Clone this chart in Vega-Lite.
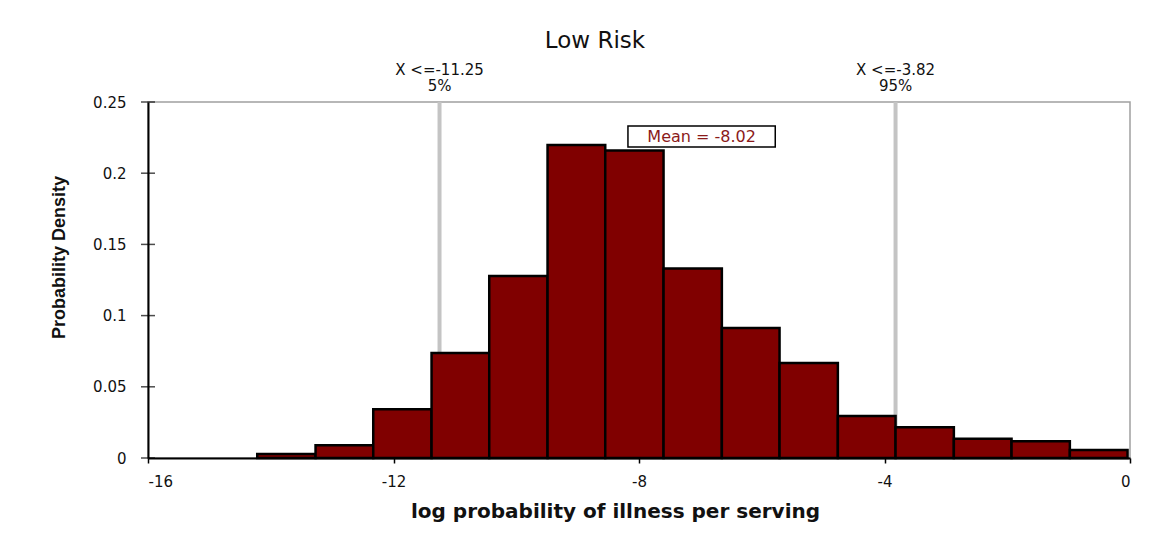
{
  "$schema": "https://vega.github.io/schema/vega-lite/v6.json",
  "width": 982,
  "height": 356,
  "autosize": {"type": "none"},
  "padding": {"left": 148, "top": 102, "right": 46, "bottom": 89},
  "background": "white",
  "config": {
    "font": "DejaVu Sans",
    "view": {"stroke": "#a0a0a0", "strokeWidth": 1.5},
    "axis": {"labelFont": "DejaVu Sans", "titleFont": "DejaVu Sans", "labelColor": "#111", "titleColor": "#111", "grid": false}
  },
  "title": {"text": "Low Risk", "fontSize": 23, "fontWeight": "normal", "color": "#111", "anchor": "middle", "dx": -44, "offset": 10, "font": "DejaVu Sans"},
  "datasets": {
    "bins": [
      {"start": -14.22, "end": -13.27, "density": 0.0028},
      {"start": -13.27, "end": -12.33, "density": 0.0089},
      {"start": -12.33, "end": -11.38, "density": 0.0342},
      {"start": -11.38, "end": -10.44, "density": 0.0737},
      {"start": -10.44, "end": -9.49, "density": 0.1278},
      {"start": -9.49, "end": -8.55, "density": 0.2198},
      {"start": -8.55, "end": -7.60, "density": 0.2160},
      {"start": -7.60, "end": -6.65, "density": 0.1330},
      {"start": -6.65, "end": -5.71, "density": 0.0913},
      {"start": -5.71, "end": -4.76, "density": 0.0667},
      {"start": -4.76, "end": -3.82, "density": 0.0295},
      {"start": -3.82, "end": -2.87, "density": 0.0216},
      {"start": -2.87, "end": -1.93, "density": 0.0136},
      {"start": -1.93, "end": -0.98, "density": 0.0117},
      {"start": -0.98, "end": -0.04, "density": 0.0056}
    ],
    "pct": [
      {"x": -11.25, "label": "X <=-11.25\n5%"},
      {"x": -3.82, "label": "X <=-3.82\n95%"}
    ],
    "yticks": [{"v": 0}, {"v": 0.05}, {"v": 0.1}, {"v": 0.15}, {"v": 0.2}, {"v": 0.25}],
    "mean": [{"x1": -8.18, "x2": -5.78, "y1": 0.2184, "y2": 0.2331, "xc": -6.98, "yc": 0.2257, "label": "Mean = -8.02"}]
  },
  "encoding": {
    "x": {"type": "quantitative", "scale": {"domain": [-16, 0], "nice": false, "zero": false}},
    "y": {"type": "quantitative", "scale": {"domain": [0, 0.25], "nice": false}}
  },
  "layer": [
    {
      "data": {"name": "pct"},
      "mark": {"type": "rule", "color": "#c4c4c4", "strokeWidth": 4},
      "encoding": {
        "x": {"field": "x", "type": "quantitative"},
        "y": {"datum": 0},
        "y2": {"datum": 0.25}
      }
    },
    {
      "data": {"name": "bins"},
      "mark": {"type": "rect", "fill": "#800000", "stroke": "#000", "strokeWidth": 2.5},
      "encoding": {
        "x": {"field": "start", "type": "quantitative",
          "axis": {"values": [-16, -12, -8, -4, 0], "labelExpr": "toString(datum.value)", "title": "log probability of illness per serving", "titleFontSize": 20, "titleFontWeight": "bold", "titleX": 467, "titleY": 53, "titleBaseline": "middle", "titleAnchor": "middle", "labelFontSize": 15, "labelPadding": 11, "tickSize": 5, "tickColor": "#000", "tickWidth": 1.5, "domainColor": "#000", "domainWidth": 2}},
        "x2": {"field": "end"},
        "y": {"field": "density", "type": "quantitative",
          "axis": {"values": [0, 0.05, 0.1, 0.15, 0.2, 0.25], "labelExpr": "toString(datum.value)", "title": "Probability Density", "titleFont": "Liberation Sans", "titleFontSize": 18, "titleFontWeight": "bold", "titleX": -80, "titleY": 155, "titleAnchor": "middle", "labelFontSize": 15, "labelPadding": 22, "ticks": false, "domainColor": "#000", "domainWidth": 2}},
        "y2": {"datum": 0}
      }
    },
    {
      "data": {"name": "yticks"},
      "mark": {"type": "tick", "orient": "horizontal", "color": "#000", "size": 14, "thickness": 1.5},
      "encoding": {
        "x": {"datum": -16},
        "y": {"field": "v", "type": "quantitative"}
      }
    },
    {
      "data": {"name": "pct"},
      "mark": {"type": "text", "fontSize": 15, "color": "#111", "baseline": "bottom", "align": "center", "lineBreak": "\n", "lineHeight": 16, "dy": -24},
      "encoding": {
        "x": {"field": "x", "type": "quantitative"},
        "y": {"datum": 0.25},
        "text": {"field": "label"}
      }
    },
    {
      "data": {"name": "mean"},
      "mark": {"type": "rect", "fill": "white", "stroke": "#000", "strokeWidth": 1.5},
      "encoding": {
        "x": {"field": "x1", "type": "quantitative"},
        "x2": {"field": "x2"},
        "y": {"field": "y1", "type": "quantitative"},
        "y2": {"field": "y2"}
      }
    },
    {
      "data": {"name": "mean"},
      "mark": {"type": "text", "fontSize": 16, "color": "#8b1a1a", "align": "center", "baseline": "middle"},
      "encoding": {
        "x": {"field": "xc", "type": "quantitative"},
        "y": {"field": "yc", "type": "quantitative"},
        "text": {"field": "label"}
      }
    }
  ]
}
